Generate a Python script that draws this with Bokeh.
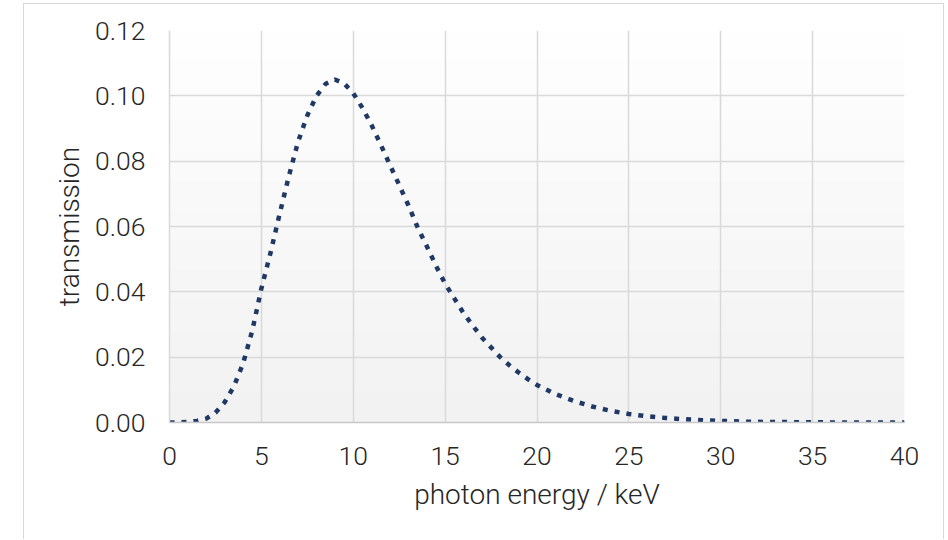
import numpy as np
from bokeh.plotting import figure
from bokeh.models import Range1d, SingleIntervalTicker, NumeralTickFormatter
from bokeh.embed import file_html
from bokeh.resources import INLINE

# photon energy / keV
energy = [0, 0.5, 1, 1.5, 2, 2.5, 3, 3.5, 4, 4.5, 5, 5.5, 6, 6.5, 7, 7.5, 8, 8.5, 9, 9.5,
          10, 10.5, 11, 11.5, 12, 12.5, 13, 13.5, 14, 14.5, 15, 15.5, 16, 16.5, 17, 17.5,
          18, 18.5, 19, 19.5, 20, 21, 22, 23, 24, 25, 26, 27, 28, 29, 30, 31, 32, 33, 34,
          35, 36, 37, 38, 39, 40]
# transmission
transmission = [0, 0, 0.0002, 0.0005, 0.0012, 0.003, 0.0062, 0.011, 0.018, 0.028, 0.041,
                0.052, 0.064, 0.0755, 0.086, 0.094, 0.100, 0.1037, 0.105, 0.1038,
                0.1008, 0.0963, 0.091, 0.085, 0.0788, 0.0727, 0.0665, 0.0598, 0.054,
                0.048, 0.0425, 0.038, 0.0335, 0.0297, 0.026, 0.023, 0.020, 0.0175,
                0.0153, 0.0133, 0.0115, 0.0087, 0.0066, 0.0049, 0.0036, 0.0026, 0.0019,
                0.0014, 0.0010, 0.0007, 0.0005, 0.0003, 0.0002, 0.00015, 0.0001,
                0.00007, 0.00004, 0.00002, 0.00001, 0, 0]

x_min, x_max, x_step = 0, 40, 5
y_min, y_max, y_step = 0, 0.12, 0.02

FONT = "Roboto Light, Roboto"
TXT = "#262626"
GRID = "#d9d9d9"

# canvas placed inside a light border starting at (23, 3)
OX, OY = 24, 4
W, H = 921, 536
p = figure(width=W, height=H, output_backend="svg", toolbar_location=None,
           x_range=Range1d(x_min, x_max), y_range=Range1d(y_min, y_max),
           min_border_left=169 - OX, min_border_right=(OX + W) - 904,
           min_border_top=30 - OY, min_border_bottom=(OY + H) - 422)
p.styles = {"border-left": "1px solid #d9d9d9", "border-right": "1px solid #d9d9d9",
            "border-top": "1px solid #d9d9d9", "margin-left": "23px", "margin-top": "3px"}
p.outline_line_color = None
p.background_fill_color = None
p.border_fill_color = "white"

# vertical gradient background of the plot area
n = 256
shade = np.linspace(242, 255, n).astype(np.uint32)  # bottom -> top
img = np.empty((n, 1), dtype=np.uint32)
view = img.view(dtype=np.uint8).reshape((n, 1, 4))
view[:, 0, 0] = shade
view[:, 0, 1] = shade
view[:, 0, 2] = shade
view[:, 0, 3] = 255
p.image_rgba(image=[img], x=x_min, y=y_min, dw=x_max - x_min, dh=y_max - y_min, level="image")

p.line(energy, transmission, line_color="#1f3864", line_width=4.5, line_dash="5 7")

for ax in (p.xaxis[0], p.yaxis[0]):
    ax.major_tick_in = 0
    ax.major_tick_out = 0
    ax.minor_tick_in = 0
    ax.minor_tick_out = 0
    ax.major_label_text_font = FONT
    ax.major_label_text_font_size = "26.5px"
    ax.major_label_text_color = TXT
    ax.axis_label_text_font = FONT
    ax.axis_label_text_font_size = "28px"
    ax.axis_label_text_font_style = "normal"
    ax.axis_label_text_color = TXT

p.xaxis.ticker = SingleIntervalTicker(interval=x_step)
p.yaxis.ticker = SingleIntervalTicker(interval=y_step)
p.yaxis.formatter = NumeralTickFormatter(format="0.00")
p.xaxis.axis_label = "photon energy / keV"
p.yaxis.axis_label = "transmission"
p.xaxis.major_label_standoff = 24
p.yaxis.major_label_standoff = 24
p.xaxis.axis_label_standoff = 10
p.yaxis.axis_label_standoff = 6
p.xaxis.axis_line_color = "#c8c8c8"
p.xaxis.axis_line_width = 1.5
p.yaxis.axis_line_color = GRID
p.yaxis.axis_line_width = 1.5

p.xgrid.ticker = SingleIntervalTicker(interval=x_step)
p.ygrid.ticker = SingleIntervalTicker(interval=y_step)
p.grid.grid_line_color = GRID
p.grid.grid_line_width = 1.5

open("out.html", "w").write(file_html(p, INLINE))
